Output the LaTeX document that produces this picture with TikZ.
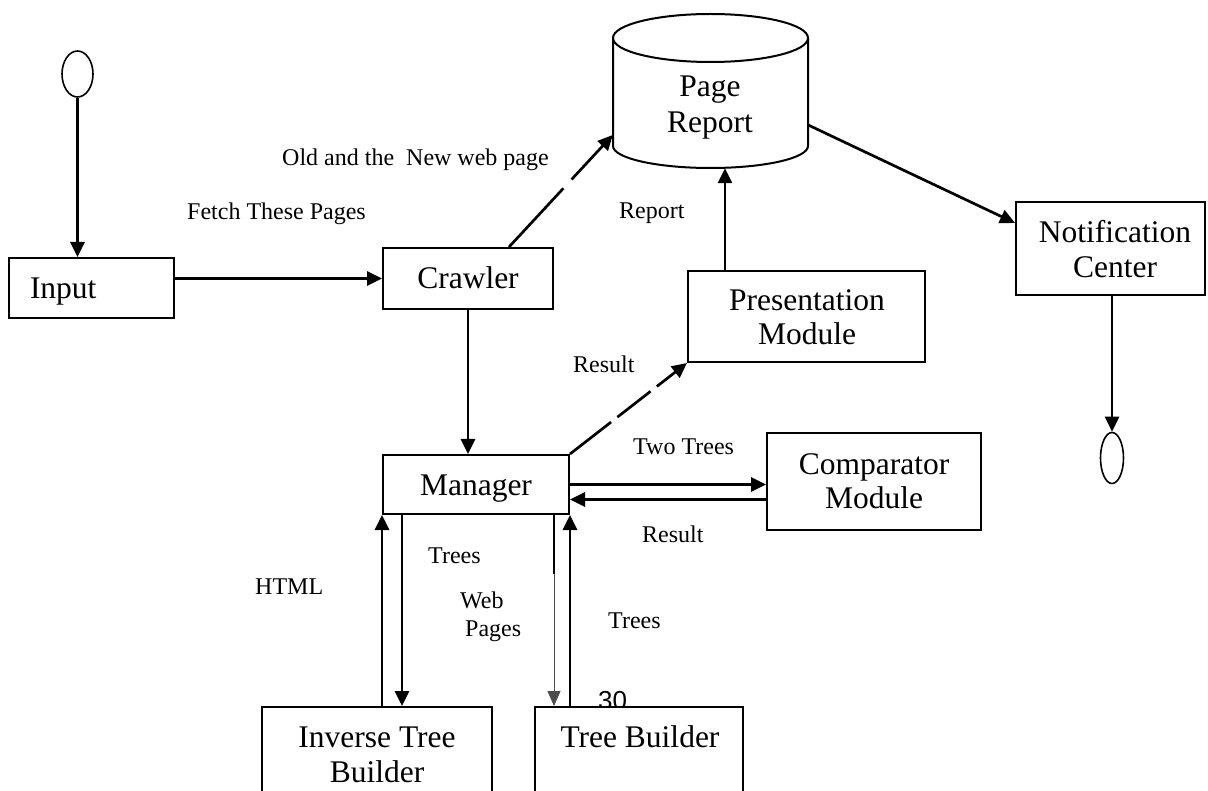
\documentclass[tikz,border=0pt]{standalone}
\usepackage{fontspec}
\setmainfont{Liberation Serif}
\newfontfamily\numfont{Liberation Sans}
\usetikzlibrary{arrows.meta,shapes.geometric}
\begin{document}
\begin{tikzpicture}[x=1pt,y=-1pt,
  box/.style={draw, line width=2pt, fill=white, inner sep=0pt,
    font=\fontsize{31.5}{35}\selectfont, text height=21pt, text depth=0pt},
  big/.style={inner sep=0pt, anchor=base, font=\fontsize{31.5}{35}\selectfont},
  lbl/.style={inner sep=0pt, anchor=base west, font=\fontsize{24}{28}\selectfont},
  arr/.style={line width=2.7pt, -{Triangle[length=15pt,width=14pt]}},
  thinarr/.style={line width=0.9pt, black!70, -{Triangle[length=15pt,width=13pt]}},
  oval/.style={draw, ellipse, line width=1.6pt, inner sep=0pt},
  dashA/.style={dash pattern=on 80pt off 12pt on 300pt},
  dashB/.style={dash pattern=on 52pt off 8pt on 42pt off 8pt on 300pt},
]
\useasboundingbox (0,0) rectangle (1208,791);
\clip (0,0) rectangle (1208,791);

% start / end ovals
\node[oval, minimum width=31pt, minimum height=46pt] (start) at (77.5,74) {};
\node[oval, minimum width=23pt, minimum height=51pt] (stop) at (1112,458) {};

% boxes
\node[box, minimum width=165pt, minimum height=60pt, text width=123pt, align=left] (input) at (91.5,288) {Input};
\node[box, minimum width=170pt, minimum height=61pt] (crawler) at (468,278.5) {Crawler};
\node[box, minimum width=186pt, minimum height=59pt] (mgr) at (476,484.5) {Manager};
\node[box, minimum width=237pt, minimum height=91pt] (pres) at (806.5,316.5) {};
\node[big] (presA) at (807,311) {Presentation};
\node[big] (presB) at (807,345) {Module};
\node[box, minimum width=214pt, minimum height=97pt] (cmp) at (874,481.5) {};
\node[big] (cmpA) at (874,475) {Comparator};
\node[big] (cmpB) at (874,508) {Module};
\node[box, minimum width=189pt, minimum height=93pt] (notif) at (1110.5,248.5) {};
\node[big] (notifA) at (1115,243) {Notification};
\node[big] (notifB) at (1115,278) {Center};

% page report cylinder
\draw[line width=2pt, fill=white] (613,38) -- (613,146) arc[start angle=180, end angle=0, x radius=97.5, y radius=22] -- (808,38);
\draw[line width=2pt] (710.5,38) ellipse [x radius=97.5, y radius=24];
\node[inner sep=0pt, minimum width=195pt, minimum height=154pt] (pr) at (710.5,91) {};
\node[big] (prA) at (710,97) {Page};
\node[big] (prB) at (710,133) {Report};

% page number
\node[inner sep=0pt, anchor=base, font=\numfont\fontsize{26}{30}\selectfont] (pnum) at (612.5,709) {30};

% bottom boxes
\node[box, minimum width=230pt, minimum height=123pt] (itb) at (377,768.5) {};
\node[big] (itbA) at (377,747) {Inverse Tree};
\node[big] (itbB) at (377,782) {Builder};
\node[box, minimum width=208pt, minimum height=123pt] (tb) at (639,768.5) {};
\node[big] (tbA) at (640,747) {Tree Builder};

% labels
\node[lbl] (l1) at (282,166) {Old and the\ \ New web page};
\node[lbl] (l2) at (187,220) {Fetch These Pages};
\node[lbl] (l3) at (619,219) {Report};
\node[lbl] (l4) at (573,373) {Result};
\node[lbl] (l5) at (633,455) {Two Trees};
\node[lbl] (l6) at (642,542) {Result};
\node[lbl] (l7) at (428,563) {Trees};
\node[lbl] (l8) at (255,594) {HTML};
\node[lbl] (l9) at (460,608) {Web};
\node[lbl] (l10) at (465,636) {Pages};
\node[lbl] (l11) at (608,628) {Trees};

% connectors
\draw[arr] (start.south) -- (start.south |- input.north);
\draw[arr] (input.east |- crawler.west) -- (crawler.west);
\draw[arr, dashA] ([xshift=41pt]crawler.north) -- ([yshift=-44pt]pr.west);
\draw[arr] (crawler.south) -- (crawler.south |- mgr.north);
\draw[arr] ([xshift=-81.5pt]pres.north) -- ([xshift=-81.5pt]pres.north |- pr.south);
\draw[arr] ([yshift=-34pt]pr.east) -- ([yshift=25.5pt]notif.west);
\draw[arr] (stop.north |- notif.south) -- (stop.north);
\draw[arr, dashB] (mgr.north east) -- (pres.south west);
\draw[arr] (mgr.east) -- (mgr.east -| cmp.west);
\draw[arr] ([yshift=-18pt]cmp.west) -- ([yshift=-18pt]cmp.west -| mgr.east);
\draw[arr] (itb.north -| mgr.south west) -- (mgr.south west);
\draw[arr] ([xshift=20pt]mgr.south west) -- ([xshift=20pt]mgr.south west |- itb.north);
\draw[thinarr] ([xshift=-16pt]mgr.south east) -- ([xshift=-16pt]mgr.south east |- tb.north);
\draw[line width=2.7pt] ([xshift=-16pt]mgr.south east) -- ++(0,59);
\draw[arr] (tb.north -| mgr.south east) -- (mgr.south east);
\end{tikzpicture}
\end{document}
